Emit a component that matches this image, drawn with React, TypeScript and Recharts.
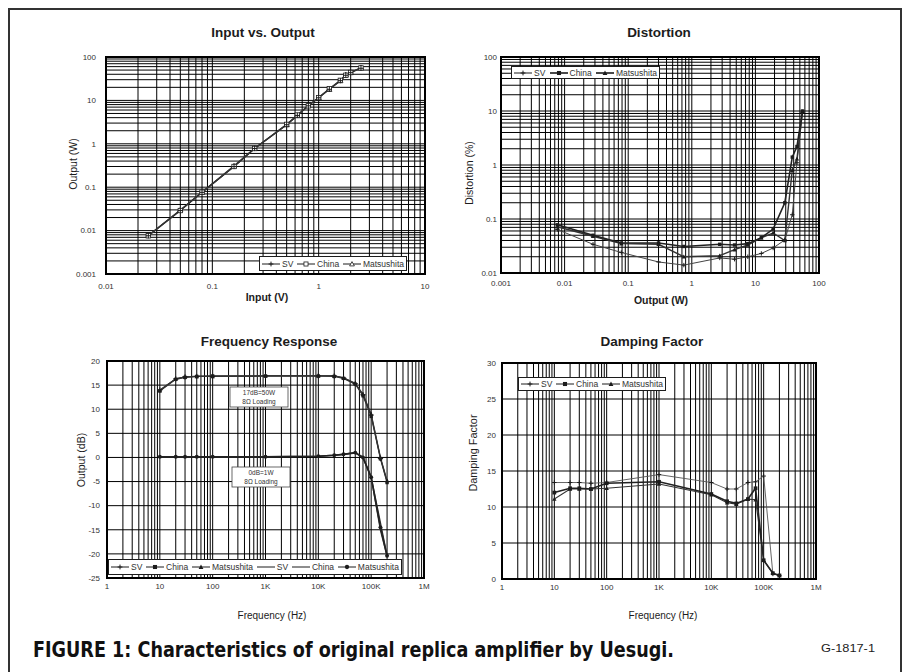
import React from "react";
import { LineChart, Line, XAxis, YAxis, CartesianGrid, Legend } from "recharts";

const FONT = "'Liberation Sans', Arial, Helvetica, sans-serif";
const INK = "#1c1c1c";

// ---- Input vs. Output (log / log)
const IO_INPUT = [0.025, 0.05, 0.08, 0.16, 0.25, 0.5, 0.63, 0.8, 1.0, 1.26, 1.6, 1.8, 2.0, 2.5];
const IO_SV = [0.0076, 0.029, 0.076, 0.3, 0.78, 2.75, 4.5, 7.5, 11.5, 18, 28.5, 38, 43.5, 55];
const IO_CHINA = [0.0076, 0.029, 0.077, 0.3, 0.78, 2.8, 4.6, 7.5, 11.6, 18.5, 29, 38, 44, 56];
const IO_MATSU = [0.0077, 0.03, 0.076, 0.31, 0.79, 2.75, 4.5, 7.6, 11.5, 18, 28.5, 39, 44, 57];
const IO_X_DECADES = [0.01, 0.1, 1, 10];
const IO_X_LABELS = ["0.01", "0.1", "1", "10"];
const IO_Y_DECADES = [0.001, 0.01, 0.1, 1, 10, 100];
const IO_Y_LABELS = ["0.001", "0.01", "0.1", "1", "10", "100"];

// ---- Distortion (log / log)
const DS_OUTPUT = [0.0077, 0.028, 0.078, 0.3, 0.75, 2.75, 4.7, 7.6, 12.4, 19, 29, 38, 45, 55];
const DS_SV = [0.064, 0.034, 0.024, 0.016, 0.014, 0.019, 0.018, 0.02, 0.023, 0.029, 0.041, 0.12, 1.1, 9.5];
const DS_CHINA = [0.078, 0.05, 0.036, 0.036, 0.031, 0.034, 0.033, 0.035, 0.045, 0.065, 0.2, 1.4, 2.2, 10];
const DS_MATSU = [0.072, 0.048, 0.035, 0.034, 0.02, 0.021, 0.027, 0.033, 0.045, 0.055, 0.04, 0.8, 1.3, 9.8];
const DS_X_DECADES = [0.001, 0.01, 0.1, 1, 10, 100];
const DS_X_LABELS = ["0.001", "0.01", "0.1", "1", "10", "100"];
const DS_Y_DECADES = [0.01, 0.1, 1, 10, 100];
const DS_Y_LABELS = ["0.01", "0.1", "1", "10", "100"];

// ---- Frequency response (log freq / dB)
const FR_FREQ = [10, 20, 30, 50, 100, 1000, 10000, 20000, 30000, 50000, 70000, 100000, 150000, 200000];
const FR_SV_50W = [14, 16.3, 16.7, 16.8, 16.8, 16.9, 16.9, 16.9, 16.5, 15.3, 13, 8.8, -0.2, -5];
const FR_CHINA_50W = [13.8, 16.2, 16.6, 16.8, 16.9, 16.9, 16.9, 16.8, 16.4, 15.2, 12.8, 8.5, -0.3, -5.2];
const FR_MATSU_50W = [13.9, 16.3, 16.7, 16.8, 16.8, 16.9, 16.9, 16.9, 16.5, 15.4, 13.1, 9, 0, -4.8];
const FR_SV_1W = [0.2, 0.2, 0.2, 0.2, 0.2, 0.2, 0.3, 0.5, 0.7, 1.0, 0.1, -4, -13.5, -20.3];
const FR_CHINA_1W = [0.1, 0.1, 0.1, 0.1, 0.1, 0.1, 0.2, 0.4, 0.6, 0.9, -0.1, -4.2, -15.2, -20.5];
const FR_MATSU_1W = [0.15, 0.15, 0.15, 0.15, 0.15, 0.15, 0.25, 0.45, 0.65, 1.0, 0, -4.1, -14.5, -20.4];
const FREQ_DECADES = [1, 10, 100, 1000, 10000, 100000, 1000000];
const FREQ_LABELS = ["1", "10", "100", "1K", "10K", "100K", "1M"];
const FR_Y_TICKS = [-25, -20, -15, -10, -5, 0, 5, 10, 15, 20];
const FR_Y_LABELS = ["-25", "-20", "-15", "-10", "-5", "0", "5", "10", "15", "20"];

// ---- Damping factor (log freq / linear)
const DF_FREQ = [10, 20, 30, 50, 100, 1000, 10000, 20000, 30000, 50000, 70000, 100000, 150000, 200000];
const DF_SV = [13.4, 13.4, 13.4, 13.3, 13.4, 14.5, 13.4, 12.5, 12.5, 13.4, 13.5, 14.3, 0.7, 0.5];
const DF_CHINA = [12, 12.6, 12.6, 12.5, 13.3, 13.5, 11.8, 10.8, 10.5, 11.1, 12.6, 2.6, 0.8, 0.5];
const DF_MATSU = [11.1, 12.5, 12.5, 12.5, 12.6, 13.2, 11.7, 10.6, 10.4, 11.1, 11, 2.6, 0.8, 0.5];
const DF_Y_TICKS = [0, 5, 10, 15, 20, 25, 30];

const pts = (xs: number[], ys: number[]) => xs.map((x, i) => ({ x, y: ys[i] }));

// every 1..9 step inside each decade, for the log grid
function logTicks(decades: number[]) {
  const out: number[] = [];
  decades.forEach((d, i) => {
    if (i === decades.length - 1) out.push(d);
    else for (let m = 1; m <= 9; m++) out.push(d * m);
  });
  return out;
}

const sameDecade = (a: number, b: number) => Math.abs(Math.log10(a) - Math.log10(b)) < 1e-6;

const tickText = { fontFamily: FONT, fontSize: 8, fill: "#333" };

const xLogTick = (decades: number[], labels: string[]) => (props: any) => {
  const { x, y, payload } = props;
  const i = decades.findIndex((d) => sameDecade(d, payload.value));
  if (i < 0) return <g />;
  return (
    <text x={x} y={y} dy="0.71em" textAnchor="middle" {...tickText}>
      {labels[i]}
    </text>
  );
};

const yLogTick = (decades: number[], labels: string[]) => (props: any) => {
  const { x, y, payload } = props;
  const i = decades.findIndex((d) => sameDecade(d, payload.value));
  if (i < 0) return <g />;
  return (
    <text x={x} y={y} dy="0.35em" textAnchor="end" {...tickText}>
      {labels[i]}
    </text>
  );
};

const yLinTick = (ticks: number[], labels: string[]) => (props: any) => {
  const { x, y, payload } = props;
  const i = ticks.indexOf(payload.value);
  return (
    <text x={x} y={y} dy="0.35em" textAnchor="end" {...tickText}>
      {i >= 0 ? labels[i] : payload.value}
    </text>
  );
};

type Shape = "plus" | "square" | "squareOpen" | "triangle" | "triangleOpen" | "circle" | "none";

function Marker({ cx, cy, shape, s = 2.6 }: { cx: number; cy: number; shape: Shape; s?: number }) {
  if (cx == null || cy == null) return <g />;
  switch (shape) {
    case "plus":
      return (
        <path d={`M${cx - s},${cy}H${cx + s}M${cx},${cy - s}V${cy + s}`} stroke={INK} strokeWidth={1} />
      );
    case "square":
      return <rect x={cx - s * 0.85} y={cy - s * 0.85} width={s * 1.7} height={s * 1.7} fill={INK} />;
    case "squareOpen":
      return (
        <rect x={cx - s * 0.85} y={cy - s * 0.85} width={s * 1.7} height={s * 1.7} fill="#fff" stroke={INK} strokeWidth={0.8} />
      );
    case "triangle":
      return <path d={`M${cx},${cy - s}L${cx + s},${cy + s * 0.8}L${cx - s},${cy + s * 0.8}Z`} fill={INK} />;
    case "triangleOpen":
      return (
        <path d={`M${cx},${cy - s}L${cx + s},${cy + s * 0.8}L${cx - s},${cy + s * 0.8}Z`} fill="#fff" stroke={INK} strokeWidth={0.8} />
      );
    case "circle":
      return <circle cx={cx} cy={cy} r={s * 0.9} fill={INK} />;
    default:
      return <g />;
  }
}

const dotOf = (shape: Shape, s?: number) => (p: any) => (
  <Marker key={`d${p.index}`} cx={p.cx} cy={p.cy} shape={shape} s={s} />
);

type Item = { label: string; shape: Shape; w?: number };

function LegendBox({ items, height, fontSize = 8.5 }: { items: Item[]; height: number; fontSize?: number }) {
  return (
    <div
      style={{
        border: `1px solid ${INK}`,
        background: "#fff",
        height,
        boxSizing: "border-box",
        display: "flex",
        alignItems: "center",
        justifyContent: "space-between",
        padding: "0 2px",
        fontFamily: FONT,
        fontSize,
        color: "#333",
        whiteSpace: "nowrap",
      }}
    >
      {items.map((it) => (
        <span key={it.label + it.shape} style={{ display: "inline-flex", alignItems: "center" }}>
          <svg width={18} height={8} style={{ marginRight: 2 }}>
            <line x1={0} y1={4} x2={18} y2={4} stroke={INK} strokeWidth={it.w ?? 1} />
            <Marker cx={9} cy={4} shape={it.shape} s={2.4} />
          </svg>
          {it.label}
        </span>
      ))}
    </div>
  );
}

type Panel = { left: number; top: number; w: number; h: number; px0: number; py0: number; px1: number; py1: number };
const Y_AXIS_W = 40;
const X_AXIS_H = 30;
const marginOf = (p: Panel) => ({
  left: p.px0 - p.left - Y_AXIS_W,
  right: p.left + p.w - p.px1,
  top: p.py0 - p.top,
  bottom: p.top + p.h - p.py1 - X_AXIS_H,
});

const P1: Panel = { left: 0, top: 0, w: 453, h: 320, px0: 106, py0: 57, px1: 425, py1: 274 };
const P2: Panel = { left: 453, top: 0, w: 453, h: 320, px0: 501, py0: 57, px1: 819, py1: 273 };
const P3: Panel = { left: 0, top: 320, w: 453, h: 352, px0: 107, py0: 361, px1: 424, py1: 578 };
const P4: Panel = { left: 453, top: 320, w: 453, h: 352, px0: 502, py0: 363, px1: 816, py1: 579 };

const gridProps = { stroke: "#000", strokeWidth: 1 };
const legendPos = (p: Panel, x: number, y: number, w: number) => ({
  position: "absolute" as const,
  left: x - p.left,
  top: y - p.top,
  width: w,
});

function InputOutput() {
  return (
    <LineChart width={P1.w} height={P1.h} margin={marginOf(P1)}>
      <CartesianGrid {...gridProps} />
      <XAxis dataKey="x" type="number" scale="log" domain={[0.01, 10]} allowDataOverflow
        ticks={logTicks(IO_X_DECADES)} interval={0} height={X_AXIS_H}
        axisLine={false} tickLine={false} tickSize={0} tickMargin={9} tick={xLogTick(IO_X_DECADES, IO_X_LABELS)} />
      <YAxis type="number" scale="log" domain={[0.001, 100]} allowDataOverflow
        ticks={logTicks(IO_Y_DECADES)} interval={0} width={Y_AXIS_W}
        axisLine={false} tickLine={false} tickSize={0} tickMargin={10} tick={yLogTick(IO_Y_DECADES, IO_Y_LABELS)} />
      <Legend layout="horizontal" verticalAlign="middle" align="center" wrapperStyle={legendPos(P1, 259, 256, 148)}
        content={() => (
          <LegendBox height={15} items={[
            { label: "SV", shape: "plus" },
            { label: "China", shape: "squareOpen" },
            { label: "Matsushita", shape: "triangleOpen" },
          ]} />
        )} />
      <Line data={pts(IO_INPUT, IO_MATSU)} dataKey="y" name="Matsushita" stroke="#333" strokeWidth={1.3} dot={dotOf("triangleOpen")} isAnimationActive={false} />
      <Line data={pts(IO_INPUT, IO_CHINA)} dataKey="y" name="China" stroke="#333" strokeWidth={1.3} dot={dotOf("squareOpen")} isAnimationActive={false} />
      <Line data={pts(IO_INPUT, IO_SV)} dataKey="y" name="SV" stroke="#333" strokeWidth={1.3} dot={dotOf("plus")} isAnimationActive={false} />
    </LineChart>
  );
}

function Distortion() {
  return (
    <LineChart width={P2.w} height={P2.h} margin={marginOf(P2)}>
      <CartesianGrid {...gridProps} />
      <XAxis dataKey="x" type="number" scale="log" domain={[0.001, 100]} allowDataOverflow
        ticks={logTicks(DS_X_DECADES)} interval={0} height={X_AXIS_H}
        axisLine={false} tickLine={false} tickSize={0} tickMargin={7} tick={xLogTick(DS_X_DECADES, DS_X_LABELS)} />
      <YAxis type="number" scale="log" domain={[0.01, 100]} allowDataOverflow
        ticks={logTicks(DS_Y_DECADES)} interval={0} width={Y_AXIS_W}
        axisLine={false} tickLine={false} tickSize={0} tickMargin={4} tick={yLogTick(DS_Y_DECADES, DS_Y_LABELS)} />
      <Legend layout="horizontal" verticalAlign="middle" align="center" wrapperStyle={legendPos(P2, 511, 66, 149)}
        content={() => (
          <LegendBox height={13} items={[
            { label: "SV", shape: "plus" },
            { label: "China", shape: "square", w: 1.6 },
            { label: "Matsushita", shape: "triangle", w: 1.6 },
          ]} />
        )} />
      <Line data={pts(DS_OUTPUT, DS_SV)} dataKey="y" name="SV" stroke="#444" strokeWidth={1} dot={dotOf("plus", 2.2)} isAnimationActive={false} />
      <Line data={pts(DS_OUTPUT, DS_MATSU)} dataKey="y" name="Matsushita" stroke="#333" strokeWidth={1.4} dot={dotOf("triangle", 2.2)} isAnimationActive={false} />
      <Line data={pts(DS_OUTPUT, DS_CHINA)} dataKey="y" name="China" stroke="#222" strokeWidth={1.6} dot={dotOf("square", 2)} isAnimationActive={false} />
    </LineChart>
  );
}

function FrequencyResponse() {
  return (
    <LineChart width={P3.w} height={P3.h} margin={marginOf(P3)}>
      <CartesianGrid {...gridProps} />
      <XAxis dataKey="x" type="number" scale="log" domain={[1, 1000000]} allowDataOverflow
        ticks={logTicks(FREQ_DECADES)} interval={0} height={X_AXIS_H}
        axisLine={false} tickLine={false} tickSize={0} tickMargin={5} tick={xLogTick(FREQ_DECADES, FREQ_LABELS)} />
      <YAxis type="number" domain={[-25, 20]} ticks={FR_Y_TICKS} interval={0} width={Y_AXIS_W}
        axisLine={false} tickLine={false} tickSize={0} tickMargin={7} tick={yLinTick(FR_Y_TICKS, FR_Y_LABELS)} />
      <Legend layout="horizontal" verticalAlign="middle" align="center" wrapperStyle={legendPos(P3, 108, 559, 294)}
        content={() => (
          <LegendBox height={16} items={[
            { label: "SV", shape: "plus" },
            { label: "China", shape: "square" },
            { label: "Matsushita", shape: "triangle" },
            { label: "SV", shape: "none" },
            { label: "China", shape: "none" },
            { label: "Matsushita", shape: "circle" },
          ]} />
        )} />
      <Line data={pts(FR_FREQ, FR_SV_50W)} dataKey="y" name="SV 50W" stroke="#333" strokeWidth={1.2} dot={dotOf("plus")} isAnimationActive={false} />
      <Line data={pts(FR_FREQ, FR_CHINA_50W)} dataKey="y" name="China 50W" stroke="#333" strokeWidth={1.2} dot={dotOf("square", 2)} isAnimationActive={false} />
      <Line data={pts(FR_FREQ, FR_MATSU_50W)} dataKey="y" name="Matsushita 50W" stroke="#333" strokeWidth={1.2} dot={dotOf("triangle", 2.2)} isAnimationActive={false} />
      <Line data={pts(FR_FREQ, FR_SV_1W)} dataKey="y" name="SV 1W" stroke="#333" strokeWidth={1.2} dot={false} isAnimationActive={false} />
      <Line data={pts(FR_FREQ, FR_CHINA_1W)} dataKey="y" name="China 1W" stroke="#333" strokeWidth={1.2} dot={false} isAnimationActive={false} />
      <Line data={pts(FR_FREQ, FR_MATSU_1W)} dataKey="y" name="Matsushita 1W" stroke="#222" strokeWidth={1.6} dot={dotOf("circle", 2.2)} isAnimationActive={false} />
    </LineChart>
  );
}

function Damping() {
  return (
    <LineChart width={P4.w} height={P4.h} margin={marginOf(P4)}>
      <CartesianGrid {...gridProps} />
      <XAxis dataKey="x" type="number" scale="log" domain={[1, 1000000]} allowDataOverflow
        ticks={logTicks(FREQ_DECADES)} interval={0} height={X_AXIS_H}
        axisLine={false} tickLine={false} tickSize={0} tickMargin={5} tick={xLogTick(FREQ_DECADES, FREQ_LABELS)} />
      <YAxis type="number" domain={[0, 30]} ticks={DF_Y_TICKS} interval={0} width={Y_AXIS_W}
        axisLine={false} tickLine={false} tickSize={0} tickMargin={6} tick={yLinTick(DF_Y_TICKS, DF_Y_TICKS.map(String))} />
      <Legend layout="horizontal" verticalAlign="middle" align="center" wrapperStyle={legendPos(P4, 518, 377, 148)}
        content={() => (
          <LegendBox height={14} items={[
            { label: "SV", shape: "plus" },
            { label: "China", shape: "square" },
            { label: "Matsushita", shape: "triangle" },
          ]} />
        )} />
      <Line data={pts(DF_FREQ, DF_SV)} dataKey="y" name="SV" stroke="#555" strokeWidth={0.9} dot={dotOf("plus", 2.2)} isAnimationActive={false} />
      <Line data={pts(DF_FREQ, DF_MATSU)} dataKey="y" name="Matsushita" stroke="#333" strokeWidth={1.1} dot={dotOf("triangle", 2.2)} isAnimationActive={false} />
      <Line data={pts(DF_FREQ, DF_CHINA)} dataKey="y" name="China" stroke="#222" strokeWidth={1.6} dot={dotOf("square", 2.2)} isAnimationActive={false} />
    </LineChart>
  );
}

const frameRect = (p: Panel) => (
  <rect x={p.px0} y={p.py0} width={p.px1 - p.px0} height={p.py1 - p.py0} fill="none" stroke="#000" strokeWidth={2} />
);

function NoteBox({ x, y, lines }: { x: number; y: number; lines: string[] }) {
  return (
    <g>
      <rect x={x} y={y} width={58} height={20} fill="#fff" stroke="#444" strokeWidth={0.8} />
      <text x={x + 29} y={y + 8} textAnchor="middle" fontFamily={FONT} fontSize={6.5} fill="#333">{lines[0]}</text>
      <text x={x + 29} y={y + 16.5} textAnchor="middle" fontFamily={FONT} fontSize={6.5} fill="#333">{lines[1]}</text>
    </g>
  );
}

export default function App() {
  const t = { fontFamily: FONT, fill: INK };
  return (
    <div style={{ position: "absolute", left: 0, top: 0, width: 906, height: 672, background: "#fff", overflow: "hidden" }}>
      <div style={{ position: "absolute", left: P1.left, top: P1.top }}><InputOutput /></div>
      <div style={{ position: "absolute", left: P2.left, top: P2.top }}><Distortion /></div>
      <div style={{ position: "absolute", left: P3.left, top: P3.top }}><FrequencyResponse /></div>
      <div style={{ position: "absolute", left: P4.left, top: P4.top }}><Damping /></div>
      <svg width={906} height={672} style={{ position: "absolute", left: 0, top: 0, pointerEvents: "none" }}>
        <path d="M9,672V9H901V672" fill="none" stroke="#333" strokeWidth={2} />
        {frameRect(P1)}
        {frameRect(P2)}
        {frameRect(P3)}
        {frameRect(P4)}

        <text x={263} y={37} textAnchor="middle" fontSize={13.5} fontWeight="bold" {...t}>Input vs. Output</text>
        <text x={659} y={37} textAnchor="middle" fontSize={13.5} fontWeight="bold" {...t}>Distortion</text>
        <text x={269} y={346} textAnchor="middle" fontSize={13.5} fontWeight="bold" {...t}>Frequency Response</text>
        <text x={652} y={346} textAnchor="middle" fontSize={13.5} fontWeight="bold" {...t}>Damping Factor</text>

        <text x={267} y={301} textAnchor="middle" fontSize={10.5} fontWeight="bold" {...t}>Input (V)</text>
        <text x={661} y={304} textAnchor="middle" fontSize={10.5} fontWeight="bold" {...t}>Output (W)</text>
        <text x={272} y={619} textAnchor="middle" fontSize={10} {...t}>Frequency (Hz)</text>
        <text x={663} y={619} textAnchor="middle" fontSize={10} {...t}>Frequency (Hz)</text>

        <text transform="translate(77,164) rotate(-90)" textAnchor="middle" fontSize={10.5} {...t}>Output (W)</text>
        <text transform="translate(473,173) rotate(-90)" textAnchor="middle" fontSize={10.5} {...t}>Distortion (%)</text>
        <text transform="translate(85,460) rotate(-90)" textAnchor="middle" fontSize={10.5} {...t}>Output (dB)</text>
        <text transform="translate(477,453) rotate(-90)" textAnchor="middle" fontSize={10.5} textLength={77} lengthAdjust="spacingAndGlyphs" {...t}>Damping Factor</text>

        <NoteBox x={230} y={387} lines={["17dB=50W", "8\u03a9 Loading"]} />
        <NoteBox x={232} y={467} lines={["0dB=1W", "8\u03a9 Loading"]} />

        <text x={33} y={657} fontSize={22} fontWeight="bold" textLength={641} lengthAdjust="spacingAndGlyphs"
          fontFamily="'Liberation Sans Narrow', 'DejaVu Sans Condensed', Arial, sans-serif" fill="#111">
          FIGURE 1: Characteristics of original replica amplifier by Uesugi.
        </text>
        <text x={821} y={652} fontSize={11} textLength={54} lengthAdjust="spacingAndGlyphs" {...t}>G-1817-1</text>
      </svg>
    </div>
  );
}
